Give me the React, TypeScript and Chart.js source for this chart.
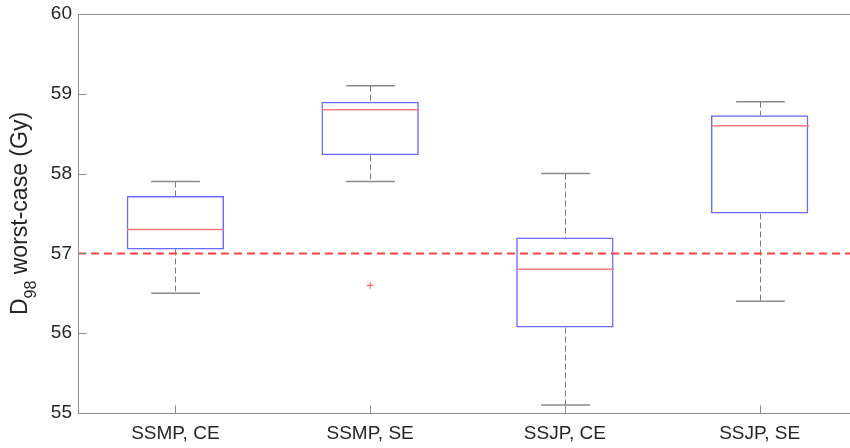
import React, { useEffect, useRef } from "react";
import { Chart, registerables } from "chart.js";

Chart.register(...registerables);

const labels = ["SSMP, CE", "SSMP, SE", "SSJP, CE", "SSJP, SE"];
const lowerWhisker = [56.5, 57.9, 55.1, 56.4];
const q1 = [57.05, 58.23, 56.07, 57.5];
const medians = [57.3, 58.8, 56.8, 58.6];
const q3 = [57.72, 58.9, 57.2, 58.73];
const upperWhisker = [57.9, 59.1, 58.0, 58.9];
const outliers = [null, 56.6, null, null];
const referenceValue = 57;
const yMin = 55;
const yMax = 60;

const FONT = "'Liberation Sans', Arial, Helvetica, sans-serif";

const boxPlugin = {
  id: "boxExtras",
  afterDatasetsDraw(chart: any) {
    const { ctx, chartArea, scales } = chart;
    const xs = scales.x;
    const ys = scales.y;
    const meta = chart.getDatasetMeta(0);
    ctx.save();
    for (let i = 0; i < labels.length; i++) {
      const bar = meta.data[i];
      const x = Math.round(xs.getPixelForValue(i)) + 0.5;
      const w = bar.width;
      const yU = ys.getPixelForValue(upperWhisker[i]);
      const yQ3 = ys.getPixelForValue(q3[i]);
      const yQ1 = ys.getPixelForValue(q1[i]);
      const yL = ys.getPixelForValue(lowerWhisker[i]);
      const yM = ys.getPixelForValue(medians[i]);
      // whiskers
      ctx.strokeStyle = "#7a7a7a";
      ctx.lineWidth = 1;
      ctx.setLineDash([6, 3]);
      ctx.beginPath();
      ctx.moveTo(x, yU);
      ctx.lineTo(x, yQ3);
      ctx.moveTo(x, yQ1);
      ctx.lineTo(x, yL);
      ctx.stroke();
      ctx.setLineDash([]);
      // caps
      ctx.strokeStyle = "#8a8a8a";
      ctx.lineWidth = 1.5;
      ctx.beginPath();
      ctx.moveTo(x - w / 4, yU);
      ctx.lineTo(x + w / 4, yU);
      ctx.moveTo(x - w / 4, yL);
      ctx.lineTo(x + w / 4, yL);
      ctx.stroke();
      // median
      ctx.strokeStyle = "#ff7a7a";
      ctx.lineWidth = 1.5;
      ctx.beginPath();
      ctx.moveTo(x - w / 2, yM);
      ctx.lineTo(x + w / 2, yM);
      ctx.stroke();
    }
    // reference line
    const yRef = ys.getPixelForValue(referenceValue);
    ctx.strokeStyle = "#ff4040";
    ctx.lineWidth = 2;
    ctx.setLineDash([8, 5]);
    ctx.beginPath();
    ctx.moveTo(chartArea.left, yRef);
    ctx.lineTo(chartArea.right, yRef);
    ctx.stroke();
    ctx.setLineDash([]);
    ctx.restore();
  },
  afterDraw(chart: any) {
    const { ctx, chartArea, scales } = chart;
    const xs = scales.x;
    const ys = scales.y;
    const l = Math.round(chartArea.left) + 0.5;
    const b = Math.round(chartArea.bottom) + 0.5;
    const t = Math.round(chartArea.top) + 0.5;
    ctx.save();
    ctx.strokeStyle = "#8c8c8c";
    ctx.lineWidth = 1;
    ctx.beginPath();
    ctx.moveTo(chartArea.right, t);
    ctx.lineTo(l, t);
    ctx.lineTo(l, b);
    ctx.lineTo(chartArea.right, b);
    ys.ticks.forEach((tk: any) => {
      const y = Math.round(ys.getPixelForValue(tk.value)) + 0.5;
      ctx.moveTo(l, y);
      ctx.lineTo(l + 8, y);
    });
    for (let i = 0; i < labels.length; i++) {
      const x = Math.round(xs.getPixelForValue(i)) + 0.5;
      ctx.moveTo(x, b);
      ctx.lineTo(x, b - 8);
    }
    ctx.stroke();

    // y title with subscript
    const main = "D";
    const sub = "98";
    const rest = " worst-case (Gy)";
    const mainFont = `23px ${FONT}`;
    const subFont = `16px ${FONT}`;
    ctx.fillStyle = "#262626";
    ctx.textBaseline = "alphabetic";
    ctx.textAlign = "left";
    ctx.font = mainFont;
    const wD = ctx.measureText(main).width;
    const wR = ctx.measureText(rest).width;
    ctx.font = subFont;
    const wS = ctx.measureText(sub).width;
    const total = wD + wS + wR;
    const cy = (chartArea.top + chartArea.bottom) / 2;
    ctx.translate(27, cy);
    ctx.rotate(-Math.PI / 2);
    let pos = -total / 2;
    ctx.font = mainFont;
    ctx.fillText(main, pos, 0);
    pos += wD;
    ctx.font = subFont;
    ctx.fillText(sub, pos, 9);
    pos += wS;
    ctx.font = mainFont;
    ctx.fillText(rest, pos, 0);
    ctx.restore();
  },
};

export default function App() {
  const ref = useRef<HTMLCanvasElement | null>(null);
  useEffect(() => {
    document.body.style.margin = "0";
    document.body.style.overflow = "hidden";
    document.documentElement.style.overflow = "hidden";
    if (!ref.current) return;
    const chart = new Chart(ref.current, {
      type: "bar",
      data: {
        labels,
        datasets: [
          {
            type: "bar",
            data: q1.map((v, i) => [v, q3[i]]),
            backgroundColor: "rgba(0,0,0,0)",
            borderColor: "#6a6aff",
            borderWidth: 1.5,
            borderSkipped: false,
            categoryPercentage: 1,
            barPercentage: 0.5,
          } as any,
          {
            type: "line",
            data: outliers as any,
            showLine: false,
            pointStyle: "cross",
            pointRadius: 3.5,
            pointBorderColor: "#ff5050",
            pointBorderWidth: 1,
            pointBackgroundColor: "#ff5050",
          } as any,
        ],
      },
      options: {
        animation: false,
        responsive: true,
        maintainAspectRatio: false,
        layout: { padding: { top: 14, right: 0, left: 0, bottom: 0 } },
        plugins: { legend: { display: false }, tooltip: { enabled: false } },
        scales: {
          x: {
            type: "category",
            offset: true,
            grid: { display: false, drawTicks: false },
            border: { display: false },
            ticks: { font: { family: FONT, size: 19 }, color: "#262626", padding: 9, maxRotation: 0 },
            afterFit(s: any) {
              s.height = 35;
              s.paddingLeft = 0;
              s.paddingRight = 0;
            },
          },
          y: {
            type: "linear",
            min: yMin,
            max: yMax,
            grid: { display: false, drawTicks: false },
            border: { display: false },
            ticks: { stepSize: 1, font: { family: FONT, size: 19 }, color: "#262626", padding: 6 },
            afterFit(s: any) {
              s.width = 78;
              s.paddingTop = 0;
              s.paddingBottom = 0;
            },
          },
        },
      } as any,
      plugins: [boxPlugin],
    });
    return () => chart.destroy();
  }, []);
  return (
    <div style={{ width: 862, height: 448, position: "relative" }}>
      <canvas ref={ref} />
    </div>
  );
}
